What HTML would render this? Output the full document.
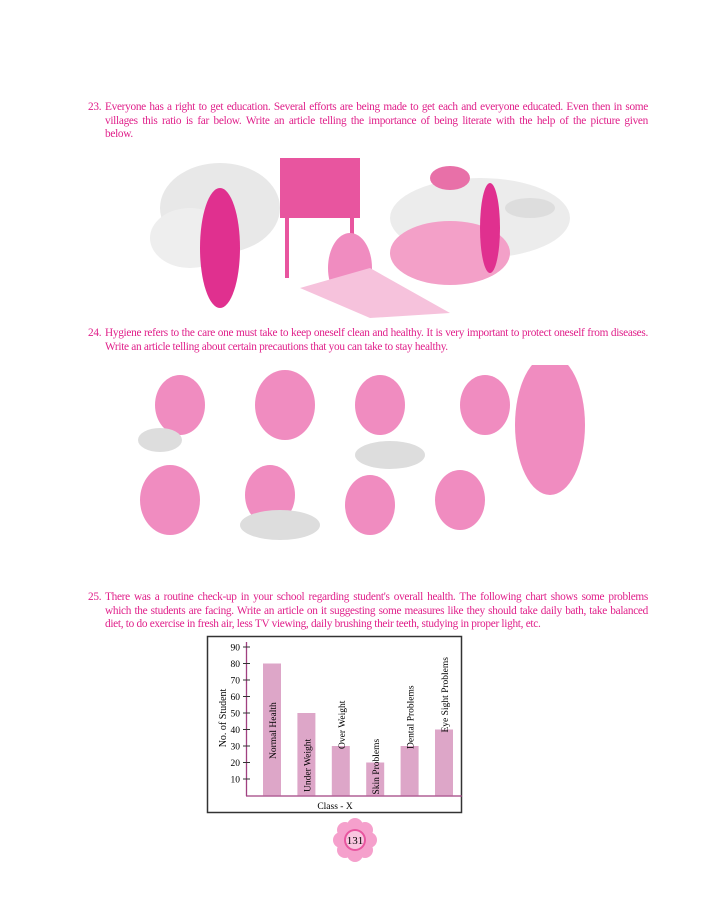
<!DOCTYPE html>
<html><head><meta charset="utf-8"><style>
body{margin:0;width:707px;height:900px;background:#fff;position:relative;overflow:hidden;font-family:"Liberation Serif",serif;}
.q{position:absolute;left:88px;width:560px;color:#e0208a;font-size:11.3px;line-height:13.5px;letter-spacing:-0.3px;}
.q span.n{position:absolute;left:0}
.q div{margin-left:17px;white-space:nowrap}
.q div.j{text-align:justify;text-align-last:justify;white-space:normal}
</style></head><body>
<div class="q" style="top:101px"><span class="n">23.</span>
<div class="j">Everyone has a right to get education. Several efforts are being made to get each and everyone educated. Even then in some</div>
<div class="j">villages this ratio is far below. Write an article telling the importance of being literate with the help of the picture given</div>
<div>below.</div></div>
<svg style="position:absolute;left:150px;top:148px" width="440" height="170">
<ellipse cx="70" cy="60" rx="60" ry="45" fill="#e8e8e8"/><ellipse cx="40" cy="90" rx="40" ry="30" fill="#eee"/>
<ellipse cx="330" cy="70" rx="90" ry="40" fill="#ececec"/>
<rect x="130" y="10" width="80" height="60" fill="#e8559f"/><rect x="135" y="70" width="4" height="60" fill="#e8559f"/><rect x="200" y="70" width="4" height="60" fill="#e8559f"/>
<ellipse cx="70" cy="100" rx="20" ry="60" fill="#e0308f"/>
<ellipse cx="200" cy="120" rx="22" ry="35" fill="#f08cc0"/><ellipse cx="300" cy="105" rx="60" ry="32" fill="#f3a0c8"/>
<polygon points="150,140 220,120 300,165 220,170" fill="#f6c2dc"/>
<ellipse cx="300" cy="30" rx="20" ry="12" fill="#e870a8"/><ellipse cx="340" cy="80" rx="10" ry="45" fill="#e0308f"/>
<ellipse cx="380" cy="60" rx="25" ry="10" fill="#ddd"/>
</svg>
<div class="q" style="top:327px"><span class="n">24.</span>
<div class="j">Hygiene refers to the care one must take to keep oneself clean and healthy. It is very important to protect oneself from diseases.</div>
<div>Write an article telling about certain precautions that you can take to stay healthy.</div></div>
<svg style="position:absolute;left:130px;top:365px" width="460" height="195">
<g fill="#f08cc0"><ellipse cx="50" cy="40" rx="25" ry="30"/><ellipse cx="155" cy="40" rx="30" ry="35"/><ellipse cx="250" cy="40" rx="25" ry="30"/><ellipse cx="355" cy="40" rx="25" ry="30"/><ellipse cx="420" cy="60" rx="35" ry="70"/>
<ellipse cx="40" cy="135" rx="30" ry="35"/><ellipse cx="140" cy="130" rx="25" ry="30"/><ellipse cx="240" cy="140" rx="25" ry="30"/><ellipse cx="330" cy="135" rx="25" ry="30"/></g>
<g fill="#ddd"><ellipse cx="30" cy="75" rx="22" ry="12"/><ellipse cx="150" cy="160" rx="40" ry="15"/><ellipse cx="260" cy="90" rx="35" ry="14"/></g>
</svg>
<div class="q" style="top:591px"><span class="n">25.</span>
<div class="j">There was a routine check-up in your school regarding student's overall health. The following chart shows some problems</div>
<div class="j">which the students are facing. Write an article on it suggesting some measures like they should take daily bath, take balanced</div>
<div>diet, to do exercise in fresh air, less TV viewing, daily brushing their teeth, studying in proper light, etc.</div></div>
<svg id="chart" style="position:absolute;left:0;top:0" width="707" height="900" font-family="Liberation Serif, serif" font-size="10">
<rect x="207.5" y="636.5" width="254" height="176" fill="none" stroke="#333" stroke-width="1.5"/>
<text x="335" y="809" text-anchor="middle" font-size="9.5">Class - X</text>
<text transform="translate(226,718) rotate(-90)" text-anchor="middle" font-size="10">No. of Student</text>
<g id="g"></g>
</svg>
<svg style="position:absolute;left:333px;top:818px" width="44" height="44">
<g fill="#f5a0cc"><circle cx="22" cy="8" r="8"/><circle cx="22" cy="36" r="8"/><circle cx="8" cy="22" r="8"/><circle cx="36" cy="22" r="8"/><circle cx="12" cy="12" r="8"/><circle cx="32" cy="12" r="8"/><circle cx="12" cy="32" r="8"/><circle cx="32" cy="32" r="8"/></g>
<circle cx="22" cy="22" r="11" fill="#e8559f"/><circle cx="22" cy="22" r="9" fill="#f9c6e0"/>
<text x="22" y="26" text-anchor="middle" font-size="11" font-family="Liberation Serif,serif">131</text>
</svg>
<script>
const categories=["Normal Health","Under Weight","Over Weight","Skin Problems","Dental Problems","Eye Sight Problems"];
const values=[80,50,30,20,30,40];
const ticks=[10,20,30,40,50,60,70,80,90];
const NS="http://www.w3.org/2000/svg",g=document.getElementById('g');
const y=v=>795.5-v*1.65, x=i=>263+i*34.4, bw=18;
function mk(t,a){const e=document.createElementNS(NS,t);for(const k in a)e.setAttribute(k,a[k]);g.appendChild(e);return e;}
let ax=mk('line',{x1:246.5,y1:642,x2:246.5,y2:796,stroke:'#a04080','stroke-width':1.3});


let bx=mk('line',{x1:246,y1:796,x2:462,y2:796,stroke:'#a04080','stroke-width':1.3});


ticks.forEach(t=>{let l=mk('line',{x1:243,x2:250,y1:y(t),y2:y(t),stroke:'#333'});


let tx=mk('text',{x:240,y:y(t)+3.5,'text-anchor':'end','font-size':9.5});tx.textContent=t;

});
categories.forEach((c,i)=>{let r=mk('rect',{x:x(i),y:y(values[i]),width:bw,height:795.5-y(values[i]),fill:'#dda6c8'});


let base=i<2?(i==0?759:792):y(values[i])+(i==3?32:3);
let tx=mk('text',{transform:`translate(${x(i)+bw/2+4},${base}) rotate(-90)`,'text-anchor':'start','font-size':9.5});
tx.textContent=c;

});
</script>
</body></html>
